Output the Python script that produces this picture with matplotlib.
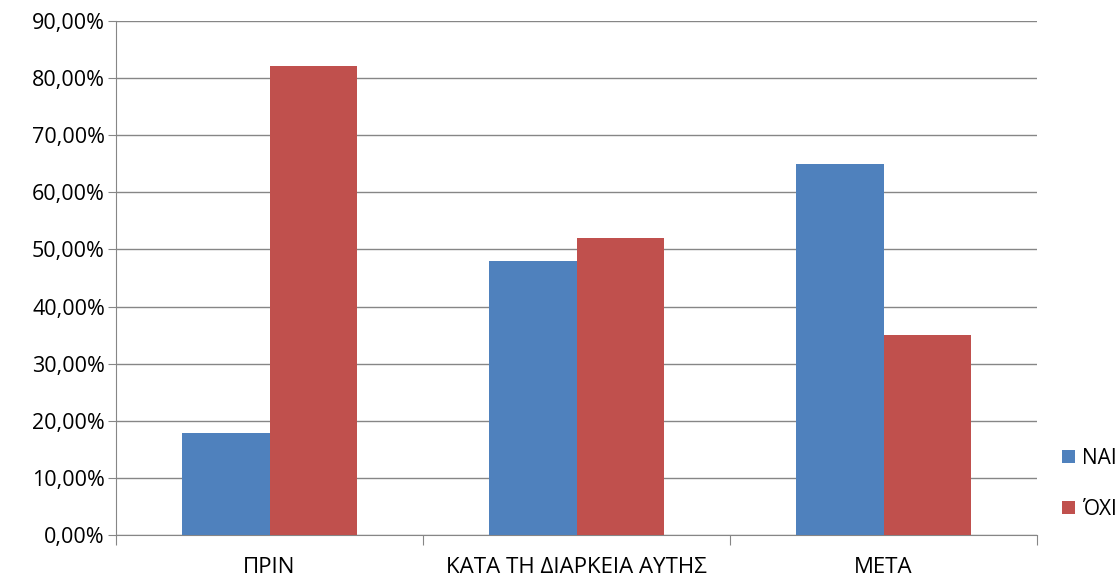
import matplotlib.pyplot as plt
import numpy as np
from matplotlib.ticker import FuncFormatter

# data
categories = ["ΠΡΙΝ", "ΚΑΤΑ ΤΗ ΔΙΑΡΚΕΙΑ ΑΥΤΗΣ", "ΜΕΤΑ"]
nai = [17.8, 48.0, 65.0]
oxi = [82.2, 52.0, 35.0]
series_names = ["ΝΑΙ", "ΌΧΙ"]

plt.rcParams['font.family'] = ['Open Sans', 'DejaVu Sans']

fig = plt.figure(figsize=(11.2, 5.8), dpi=100)
ax = fig.add_axes([0.1036, 0.0776, 0.8224, 0.8862])

x = np.arange(len(categories))
w = 0.285
ax.bar(x - w / 2, nai, width=w, color="#4F81BD", label=series_names[0], zorder=3)
ax.bar(x + w / 2, oxi, width=w, color="#C0504D", label=series_names[1], zorder=3)

ax.set_xlim(-0.5, len(categories) - 0.5)
ax.set_ylim(0, 90)
ax.set_yticks(np.arange(0, 91, 10))
ax.yaxis.set_major_formatter(FuncFormatter(lambda v, p: f"{v:.2f}%".replace(".", ",")))
ax.grid(axis="y", color="#868686", linewidth=1, zorder=0)

# category labels between boundary ticks
ax.set_xticks(np.arange(-0.5, len(categories), 1))
ax.set_xticklabels([])
ax.set_xticks(x, minor=True)
ax.set_xticklabels(categories, minor=True)
ax.tick_params(axis="x", which="major", length=7, direction="out", color="#868686")
ax.tick_params(axis="x", which="minor", length=0, pad=16, labelsize=16)
ax.tick_params(axis="y", length=6, color="#868686", labelsize=15.5, pad=2)

for s in ["top", "right"]:
    ax.spines[s].set_visible(False)
for s in ["left", "bottom"]:
    ax.spines[s].set_color("#868686")

ax.legend(loc="center left", bbox_to_anchor=(1058 / 1120, 0.1655),
          bbox_transform=fig.transFigure, frameon=False, borderpad=0.2,
          borderaxespad=0, fontsize=15, handlelength=0.6, handleheight=0.6,
          handletextpad=0.35, labelspacing=1.45)

fig.savefig("out.png", dpi=100)
